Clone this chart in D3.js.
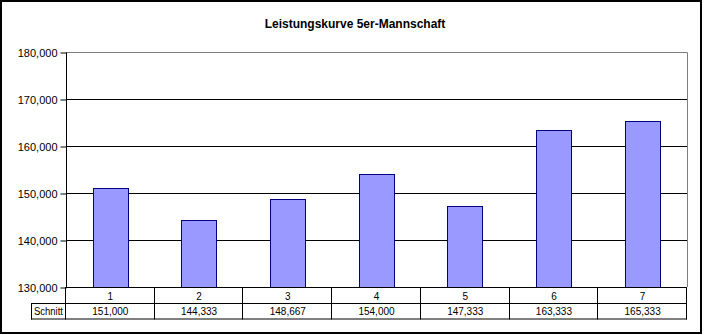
<!DOCTYPE html>
<html>
<head>
<meta charset="utf-8">
<script src="https://cdn.jsdelivr.net/npm/d3@7"></script>
<style>
  html, body { margin: 0; padding: 0; background: #fff; }
  svg { display: block; }
  text { font-family: Arial, "Liberation Sans", sans-serif; fill: #000; }
</style>
</head>
<body>
<svg id="chart" width="704" height="335"></svg>
<script>
// Team performance per round (average score, "Schnitt")
const categories = ["1", "2", "3", "4", "5", "6", "7"];
const schnitt = [151000, 144333, 148667, 154000, 147333, 163333, 165333];
const yTicks = [130000, 140000, 150000, 160000, 170000, 180000];
const title = "Leistungskurve 5er-Mannschaft";
const rowLabel = "Schnitt";

const svg = d3.select("#chart");
const W = 704, H = 335;
const plot = { left: 66, right: 687, top: 52, bottom: 287 };
const rowH = 15.5;

// Outer chart frame
svg.append("rect")
  .attr("x", 1).attr("y", 1)
  .attr("width", W - 4).attr("height", H - 3)
  .attr("fill", "#fff").attr("stroke", "#000").attr("stroke-width", 2);

// Title
svg.append("text")
  .attr("x", 355).attr("y", 28)
  .attr("text-anchor", "middle")
  .attr("font-size", "12px").attr("font-weight", "bold")
  .text(title);

const y = d3.scaleLinear().domain([130000, 180000]).range([plot.bottom, plot.top]);
const x = d3.scaleBand().domain(categories).range([plot.left, plot.right])
  .paddingInner(0.6).paddingOuter(0.3);
const col = d3.scaleBand().domain(categories).range([plot.left, plot.right]);

// Plot area border (grey, top and right)
svg.append("path")
  .attr("d", `M${plot.left},${plot.top + 0.5}H${plot.right + 0.5}V${plot.bottom}`)
  .attr("fill", "none").attr("stroke", "#808080").attr("stroke-width", 1);

// Horizontal gridlines
svg.append("g").selectAll("line")
  .data(yTicks.filter(t => t > 130000 && t < 180000))
  .join("line")
  .attr("x1", plot.left).attr("x2", plot.right)
  .attr("y1", d => Math.round(y(d)) + 0.5).attr("y2", d => Math.round(y(d)) + 0.5)
  .attr("stroke", "#000").attr("stroke-width", 1);

// Bars
svg.append("g").selectAll("rect")
  .data(schnitt)
  .join("rect")
  .attr("x", (d, i) => Math.round(x(categories[i])) + 0.5)
  .attr("width", Math.round(x.bandwidth()))
  .attr("y", d => Math.round(y(d)) + 0.5)
  .attr("height", d => Math.round(y(130000)) - Math.round(y(d)))
  .attr("fill", "#9999FF").attr("stroke", "#000080").attr("stroke-width", 1);

// Value axis
const yAxis = d3.axisLeft(y).tickValues(yTicks).tickFormat(d3.format(",")).tickSize(6).tickPadding(3);
const gy = svg.append("g").attr("transform", `translate(${plot.left + 0.5},0.5)`).call(yAxis);
gy.select(".domain").attr("stroke", "#000").attr("d", `M-0,${plot.top}V${plot.bottom}`);
gy.selectAll(".tick line").attr("stroke", "#000");
gy.selectAll(".tick text").attr("font-size", "11px").attr("font-family", "Arial, 'Liberation Sans', sans-serif").attr("fill", "#000");

// Data table beneath the category axis
const t0 = plot.bottom, t1 = plot.bottom + 16, t2 = plot.bottom + 16 + rowH;
const tbl = svg.append("g").attr("stroke", "#000").attr("stroke-width", 1).attr("fill", "none");
tbl.append("line").attr("x1", plot.left).attr("x2", plot.right).attr("y1", t0 + 0.5).attr("y2", t0 + 0.5);
tbl.append("line").attr("x1", 31).attr("x2", plot.right).attr("y1", t1 + 0.5).attr("y2", t1 + 0.5);
tbl.append("line").attr("x1", 31).attr("x2", plot.right).attr("y1", t2 + 0.5).attr("y2", t2 + 0.5);
tbl.append("line").attr("x1", 31.5).attr("x2", 31.5).attr("y1", t1).attr("y2", t2 + 1);
tbl.selectAll(".col").data([...categories.map(c => col(c)), plot.right]).join("line")
  .attr("class", "col")
  .attr("x1", d => Math.round(d) - 0.5).attr("x2", d => Math.round(d) - 0.5)
  .attr("y1", t0).attr("y2", t2 + 1);

svg.append("g").selectAll("text").data(categories).join("text")
  .attr("x", d => col(d) + col.bandwidth() / 2)
  .attr("y", (t0 + t1) / 2 + 1)
  .attr("dy", "0.35em")
  .attr("text-anchor", "middle").attr("font-size", "10px")
  .text(d => d);

svg.append("g").selectAll("text").data(schnitt).join("text")
  .attr("x", (d, i) => col(categories[i]) + col.bandwidth() / 2)
  .attr("y", (t1 + t2) / 2 + 1)
  .attr("dy", "0.35em")
  .attr("text-anchor", "middle").attr("font-size", "10px")
  .text(d => d3.format(",")(d));

svg.append("text")
  .attr("x", 34).attr("y", (t1 + t2) / 2 + 1).attr("dy", "0.35em")
  .attr("font-size", "10px")
  .attr("textLength", 29).attr("lengthAdjust", "spacingAndGlyphs")
  .text(rowLabel);
</script>
</body>
</html>
